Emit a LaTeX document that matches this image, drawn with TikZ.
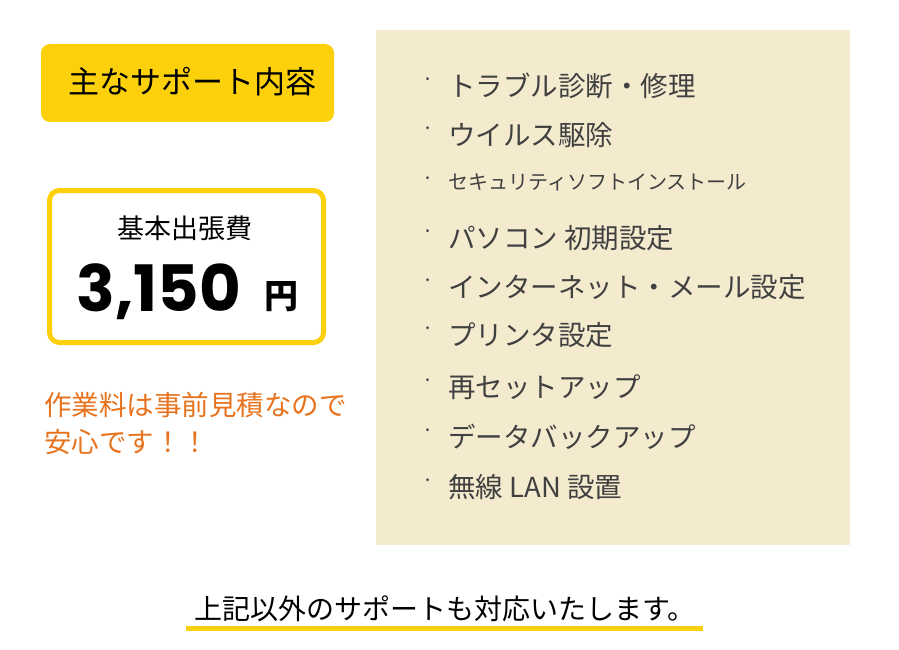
\documentclass[tikz,border=0pt]{standalone}
\usepackage{fontspec}
\newfontfamily\jp{Noto Sans CJK JP}
\newfontfamily\pop{Poppins}
\definecolor{ylw}{HTML}{FCD00A}
\definecolor{beige}{HTML}{F4EBCF}
\definecolor{org}{HTML}{E8731E}
\definecolor{txt}{HTML}{404040}
\tikzset{
 item/.style={anchor=west,text=txt,font=\jp\fontsize{27.5}{30}\selectfont,inner sep=0pt},
 dotmark/.style={anchor=center,text=txt,font=\jp\fontsize{20}{24}\selectfont,inner sep=0pt},
}
\begin{document}
\begin{tikzpicture}[x=1pt,y=-1pt]
\useasboundingbox[fill=white] (0,0) rectangle (899,650);
\fill[beige] (376,30) rectangle (850,545);
\node[fill=ylw,rounded corners=9pt,minimum width=293pt,minimum height=78pt] (title) at (187.5,83) {};
\node[font=\jp\fontsize{31}{34}\selectfont,text=black] (tt) at (192,82) {主なサポート内容};
\node[draw=ylw,line width=5pt,fill=white,rounded corners=10pt,minimum width=274pt,minimum height=152pt] (box) at (186.5,266.5) {};
\node[font=\jp\fontsize{27}{30}\selectfont] (lbl) at (185,228) {基本出張費};
\node[font=\pop\bfseries\fontsize{64}{70}\selectfont,inner sep=0pt] (price) at (159,292) {3,150};
\node[font=\jp\bfseries\fontsize{34}{36}\selectfont,inner sep=0pt] (yen) at (281,297) {円};
\node[anchor=west,text=org,font=\jp\fontsize{27.5}{30}\selectfont,inner sep=0pt] (o1) at (44,405) {作業料は事前見積なので};
\node[anchor=west,text=org,font=\jp\fontsize{27.5}{30}\selectfont,inner sep=0pt] (o2) at (44,442) {安心です！！};
\foreach \y/\t [count=\i] in {86/トラブル診断・修理,135/ウイルス駆除,238/パソコン 初期設定,287/インターネット・メール設定,335/プリンタ設定,387/再セットアップ,437/データバックアップ,487/無線 LAN 設置}{
 \node[dotmark] (d\i) at (428,\y-4) {·};
 \node[item] (t\i) at (448,\y) {\t};
}
\node[dotmark] (ds) at (428,181) {·};
\node[item,font=\jp\fontsize{20}{22}\selectfont] (ts) at (448,182) {セキュリティソフトインストール};
\fill[ylw] (186,626) rectangle (703,631);
\node[font=\jp\fontsize{28}{30}\selectfont,text=black] (bottom) at (445,609) {上記以外のサポートも対応いたします。};
\end{tikzpicture}
\end{document}
